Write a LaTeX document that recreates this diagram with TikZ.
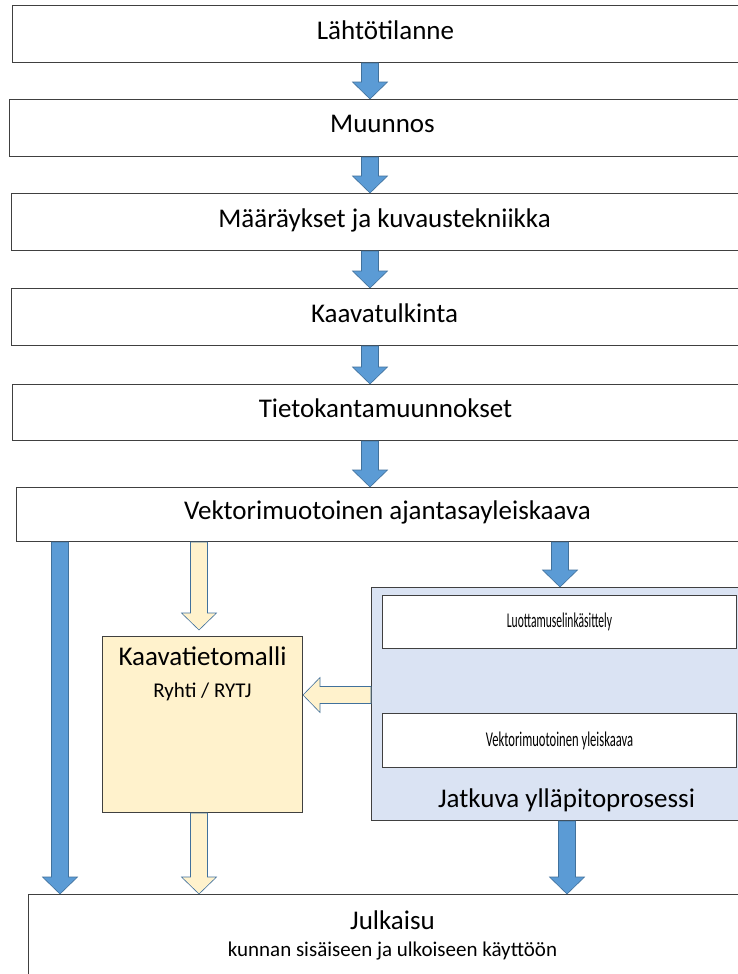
\documentclass[tikz,border=0pt]{standalone}
\usepackage{fontspec}
\setmainfont{Carlito}
\usepackage{tikz}
\usetikzlibrary{calc}

\definecolor{arrblue}{HTML}{5B9BD5}
\definecolor{arrline}{HTML}{41719C}
\definecolor{cream}{HTML}{FFF2CC}
\definecolor{paleblue}{HTML}{DAE3F3}

% block arrow from #2 to #3
\newcommand{\blockarrow}[3][]{%
	\path (#3) coordinate (tip) ($(#3)!17pt!(#2)$) coordinate (hb);
	\draw[#1] ($(#2)!8.5pt!90:(#3)$) -- ($(hb)!8.5pt!90:(tip)$) -- ($(hb)!17.5pt!90:(tip)$) -- (tip)
		-- ($(hb)!17.5pt!-90:(tip)$) -- ($(hb)!8.5pt!-90:(tip)$) -- ($(#2)!8.5pt!-90:(#3)$) -- cycle;}

\begin{document}
\begin{tikzpicture}[x=1pt,y=-1pt,
	box/.style={draw=black!75,line width=1pt,fill=white,minimum width=746pt,minimum height=57pt,anchor=north west,inner sep=0pt,text depth=8pt,font=\fontsize{27}{32}\selectfont},
	subbox/.style={draw=black!75,line width=1pt,fill=white,minimum width=354pt,minimum height=53pt,anchor=north west,inner sep=0pt,font=\fontsize{21}{25}\selectfont},
	bluearr/.style={fill=arrblue,draw=arrline,line width=0.6pt},
	creamarr/.style={fill=cream,draw=arrline,line width=0.6pt},
	big/.style={font=\fontsize{27}{32}\selectfont},
	small/.style={font=\fontsize{21}{25}\selectfont}]
			\useasboundingbox (0,0) rectangle (738,974);
			\fill[white] (0,0) rectangle (738,974);
			\clip (0,0) rectangle (738,974);
			
			\coordinate (c0) at (370,0);
			\coordinate (c1) at (60,0);
			\coordinate (c2) at (199,0);
			\coordinate (c3) at (560,0);
			\coordinate (c4) at (567,0);
			\coordinate (ly) at (0,695);
			
			%main steps
			\node[box] (b1) at (12,5) {Lähtötilanne};
			\node[box] (b2) at (9,99) {Muunnos};
			\node[box] (b3) at (11,193) {Määräykset ja kuvaustekniikka};
			\node[box] (b4) at (11,288) {Kaavatulkinta};
			\node[box,minimum height=56pt] (b5) at (12,384) {Tietokantamuunnokset};
			\node[box,minimum height=54pt,minimum width=742pt] (b6) at (16,487) {Vektorimuotoinen ajantasayleiskaava};
			
			\blockarrow[bluearr]{b1.south -| c0}{b2.north -| c0}
			\blockarrow[bluearr]{b2.south -| c0}{b3.north -| c0}
			\blockarrow[bluearr]{b3.south -| c0}{b4.north -| c0}
			\blockarrow[bluearr]{b4.south -| c0}{b5.north -| c0}
			\blockarrow[bluearr]{b5.south -| c0}{b6.north -| c0}
			
			%kaavatietomalli
			\node[draw=black!75,line width=1pt,fill=cream,minimum width=200pt,minimum height=176pt,anchor=north west] (kt) at (102,636) {};
			\node[big] (kt1) at ($(kt.north)+(0,20)$) {Kaavatietomalli};
			\node[small] (kt2) at ($(kt.north)+(0,56)$) {Ryhti / RYTJ};
			
			%jatkuva prosessi
			\node[draw=black!75,line width=1pt,fill=paleblue,minimum width=390pt,minimum height=233pt,anchor=north west] (jp) at (371,587) {};
			\node[subbox] (s1) at (382,595) {\scalebox{0.55}[1]{Luottamuselinkäsittely}};
			\node[subbox,minimum height=54pt] (s2) at (382,713) {\scalebox{0.6}[1]{Vektorimuotoinen yleiskaava}};
			\node[big] (jp1) at ($(jp.south)+(0,-21)$) {Jatkuva ylläpitoprosessi};
			
			%julkaisu
			\node[draw=black!75,line width=1pt,fill=white,minimum width=728pt,minimum height=100pt,anchor=north west] (pub) at (28,894) {};
			\node[big] (pub1) at ($(pub.north)+(0,26)$) {Julkaisu};
			\node[small] (pub2) at ($(pub.north)+(0,57)$) {kunnan sisäiseen ja ulkoiseen käyttöön};
			
			%arrows below
			\blockarrow[bluearr]{b6.south -| c1}{pub.north -| c1}
			\blockarrow[creamarr]{b6.south -| c2}{$(kt.north -| c2)+(0,-6)$}
			\blockarrow[bluearr]{b6.south -| c3}{jp.north -| c3}
			\blockarrow[creamarr]{jp.west |- ly}{kt.east |- ly}
			\blockarrow[creamarr]{kt.south -| c2}{pub.north -| c2}
			\blockarrow[bluearr]{jp.south -| c4}{pub.north -| c4}
			
			\end{tikzpicture}
\end{document}
